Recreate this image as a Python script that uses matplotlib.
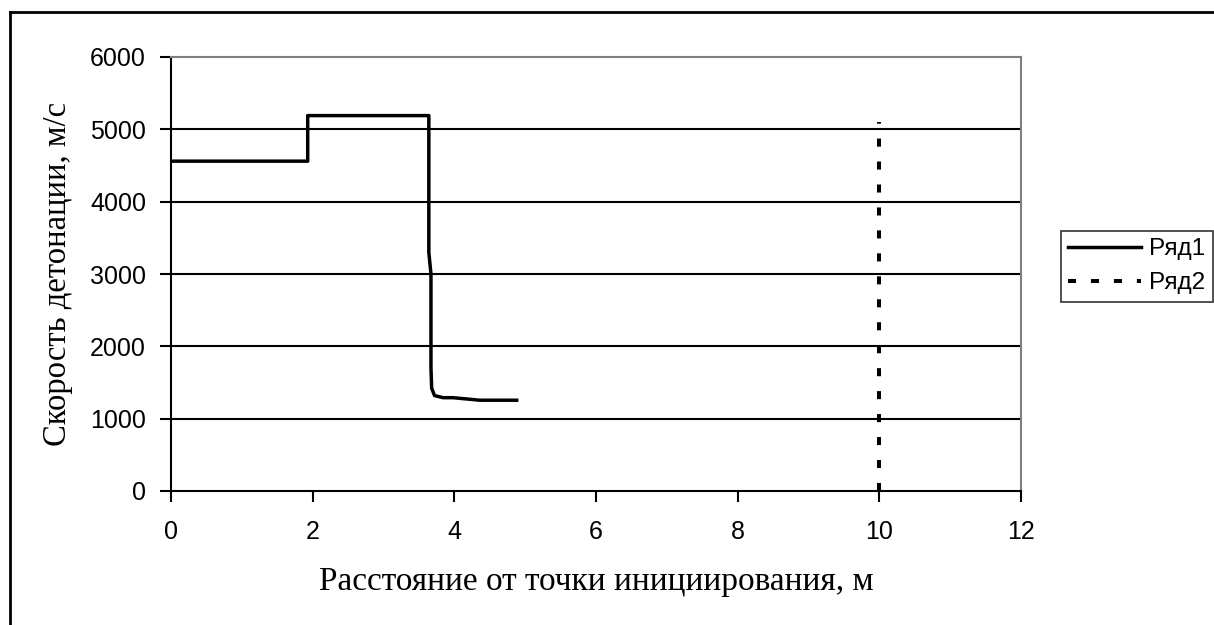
import matplotlib.pyplot as plt
from matplotlib.lines import Line2D

# detonation velocity along the charge
dist1 = [0, 1.93, 1.93, 3.64, 3.64, 3.67, 3.67, 3.68, 3.72, 3.84, 3.98, 4.2, 4.36, 4.88]
vel1 = [4560, 4560, 5190, 5190, 3300, 3000, 1700, 1420, 1320, 1290, 1290, 1270, 1255, 1255]
# second series: vertical marker at 10 m
dist2 = [10, 10]
vel2 = [0, 5100]

xticks = [0, 2, 4, 6, 8, 10, 12]
yticks = [0, 1000, 2000, 3000, 4000, 5000, 6000]

serif = 'Liberation Serif'
sans = 'Liberation Sans'

fig = plt.figure(figsize=(12.14, 6.25), dpi=100)
ax = fig.add_axes([171/1214, 1-491/625, 850/1214, 434/625])

ax.plot(dist1, vel1, color='black', lw=2.5, label='Ряд1', solid_joinstyle='round')
ln, = ax.plot(dist2, vel2, color='black', lw=2.9, label='Ряд2')
ln.set_dashes((2.0, 3.7))

ax.set_xlim(0, 12)
ax.set_ylim(0, 6000)
ax.set_xticks(xticks)
ax.set_yticks(yticks)
ax.set_xticklabels([str(v) for v in xticks], fontfamily=sans, fontsize=18)
ax.set_yticklabels([str(v) for v in yticks], fontfamily=sans, fontsize=18)
ax.tick_params(axis='x', direction='out', length=8, width=1.5, pad=13)
ax.tick_params(axis='y', direction='out', length=8, width=1.5, pad=10)

for y in yticks[1:-1]:
    ax.axhline(y, color='black', lw=1.5, zorder=0)

for s in ['left', 'bottom']:
    ax.spines[s].set_color('black')
    ax.spines[s].set_linewidth(1.5)
for s in ['top', 'right']:
    ax.spines[s].set_color('#808080')
    ax.spines[s].set_linewidth(1.5)

ax.set_xlabel('Расстояние от точки инициирования, м', fontfamily=serif, fontsize=24, labelpad=16)
ax.set_ylabel('Скорость детонации, м/с', fontfamily=serif, fontsize=23.5, labelpad=12)

leg = fig.legend(loc='upper left', bbox_to_anchor=(1061/1214, 1-231/625),
                 prop={'family': sans, 'size': 17.5}, frameon=True, fancybox=False,
                 handlelength=3.0, handletextpad=0.33, labelspacing=0.5,
                 borderpad=0.3, borderaxespad=0)
leg.get_frame().set_edgecolor('black')
leg.get_frame().set_linewidth(1.2)

# outer chart frame: only its left and top edges fall inside the image
fig.add_artist(Line2D([9.5/1214, 9.5/1214], [0, 1-12/625], transform=fig.transFigure,
                      color='black', lw=2))
fig.add_artist(Line2D([9.5/1214, 1], [1-12/625, 1-12/625], transform=fig.transFigure,
                      color='black', lw=2))

fig.savefig('out.png', dpi=100)
